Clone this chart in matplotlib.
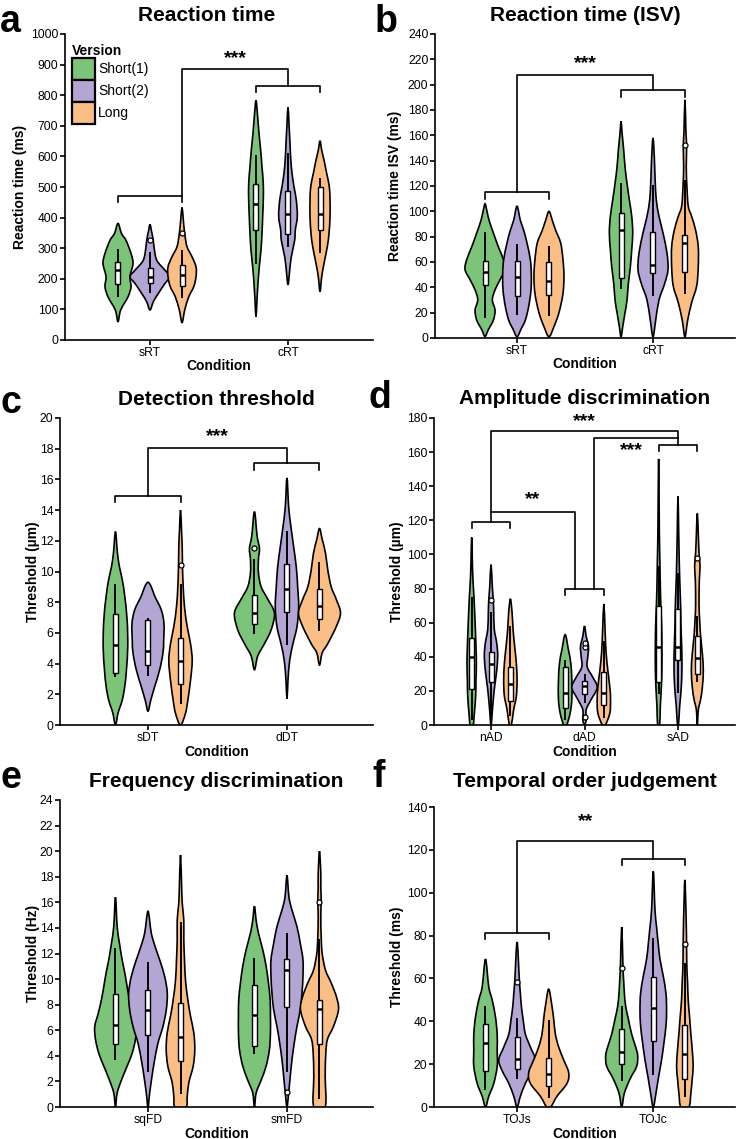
import numpy as np
import matplotlib
matplotlib.use("Agg")
import matplotlib.pyplot as plt
from matplotlib.path import Path
from matplotlib.patches import PathPatch, Patch, Rectangle

plt.rcParams['font.family'] = ['Liberation Sans', 'DejaVu Sans']

FIG_W, FIG_H = 736, 1139
COLORS = ["#7CC47A", "#B4A6D4", "#FBBF86"]
VERSIONS = ["Short(1)", "Short(2)", "Long"]

#+++ Data. Violins are given as (value, half-width in px) knots,
# boxes as [whisker low, q1, median, q3, whisker high]; order is condition-major, version-minor.

# a: Reaction time
A_CONDS = ["sRT", "cRT"]
A_Y = [[60, 98, 141, 174, 207, 250, 283, 326, 348, 381],
       [98, 125, 152, 185, 207, 228, 261, 305, 326, 359, 378],
       [57, 98, 141, 174, 207, 239, 272, 305, 348, 392, 433],
       [76, 131, 185, 239, 294, 348, 403, 457, 511, 566, 620, 675, 729, 783],
       [180, 228, 272, 326, 359, 403, 457, 501, 566, 642, 707, 760],
       [158, 207, 250, 305, 348, 403, 457, 501, 544, 588, 620, 651]]
A_W = [[0, 2.7, 10, 13, 12, 15, 13, 8, 3.5, 0],
       [0, 3.3, 8.3, 15, 20, 15, 6.7, 4, 3.3, 1.3, 0],
       [0, 2.7, 6.7, 11.7, 14, 14, 10, 5, 2.7, 1.3, 0],
       [0, 1, 2, 3.3, 5, 6, 6.7, 7.3, 7.3, 6, 4.7, 3, 1.7, 0],
       [0, 1.7, 3.3, 6.7, 7.3, 9.3, 8.3, 6, 3.3, 2, 1, 0],
       [0, 1.7, 4, 7.3, 9, 10, 10, 9.3, 6.7, 4, 1.7, 0]]
A_BOX = [[141, 183, 228, 256, 299], [152, 185, 205, 234, 288], [136, 176, 212, 245, 294],
         [250, 359, 446, 509, 604], [305, 348, 413, 487, 612], [283, 359, 413, 501, 528]]
A_OUT = [[], [326], [351], [], [], []]

# b: Reaction time (ISV)
B_CONDS = ["sRT", "cRT"]
B_Y = [[1.3, 6.6, 14, 22, 30, 38, 46, 54, 62, 72, 83, 93, 101, 106],
       [1, 7, 14, 25, 38, 51, 62, 75, 85, 93, 104],
       [1, 9, 20, 35, 49, 62, 75, 85, 93, 100],
       [1, 9, 20, 30, 43, 56, 70, 83, 96, 109, 122, 135, 148, 162, 171],
       [1, 14, 30, 43, 54, 67, 83, 96, 109, 122, 135, 148, 158],
       [1, 14, 28, 41, 56, 72, 85, 96, 104, 119, 135, 151, 162, 188]]
B_W = [[0, 3.3, 8.3, 10, 7.3, 10, 15, 20, 18.3, 13.3, 8.3, 4, 1.7, 0],
       [0, 4, 8.3, 11.7, 14, 14.3, 13.3, 10, 6.7, 3.3, 0],
       [0, 5, 10, 14, 15, 14, 11.7, 6.7, 3.3, 0],
       [0, 1.7, 4, 6, 7.3, 9.3, 10.7, 11.7, 10.7, 8.3, 6, 4, 2.7, 1, 0],
       [0, 2.7, 6, 11.7, 15, 14, 10, 6, 3.3, 2.3, 1.7, 1, 0],
       [0, 2.7, 6.7, 11.7, 13.3, 13.3, 10.7, 6.7, 3.3, 2, 1.3, 1.7, 1, 0]]
B_BOX = [[16, 42, 52, 61, 84], [18, 33, 48, 61, 74], [17, 34, 45, 60, 73],
         [39, 47, 85, 99, 122], [33, 51, 58, 84, 121], [35, 52, 75, 81, 125]]
B_OUT = [[], [], [], [], [], [152]]

# c: Detection threshold
C_CONDS = ["sDT", "dDT"]
C_Y = [[0, 0.8, 1.6, 2.5, 3.6, 5.1, 6.8, 8.4, 9.5, 10.3, 11.2, 12.6],
       [0.9, 1.6, 2.5, 3.6, 4.7, 5.5, 6.6, 7.5, 8.4, 9.0, 9.3],
       [0, 0.76, 1.6, 2.9, 4.2, 5.3, 6.4, 7.7, 9.0, 10.3, 11.6, 12.7, 14.0],
       [3.6, 4.5, 5.3, 6.2, 7.3, 8.2, 9.0, 9.9, 10.8, 11.5, 12.3, 13.9],
       [1.7, 2.9, 4.2, 5.3, 6.4, 7.7, 9.0, 10.3, 11.6, 12.9, 14.2, 16.1],
       [3.9, 4.7, 5.3, 6.4, 7.3, 8.2, 9.0, 10.1, 11.2, 12.1, 12.8]]
C_W = [[0, 2.7, 6.7, 9.3, 11, 12.3, 11.7, 9.3, 6.7, 4, 2, 0],
       [0, 2.7, 6.7, 11.7, 15, 15.7, 16, 13.3, 6.7, 3.3, 0],
       [0, 5, 7.3, 10, 11.7, 10, 6.7, 4, 2.7, 2, 1.7, 1, 0],
       [0, 3.3, 10, 16.7, 20, 13.3, 6.7, 4, 4, 5, 2.7, 0],
       [0, 1, 2.7, 6, 10, 11.7, 10.7, 9.3, 6.7, 4, 1.7, 0],
       [0, 2.7, 8.3, 16.7, 21, 16.7, 11.7, 8.3, 6, 2.7, 0]]
C_BOX = [[3.15, 3.4, 5.2, 7.2, 9.2], [3.2, 3.9, 4.85, 6.85, 7.0], [1.4, 2.7, 4.2, 5.7, 9.2],
         [5.9, 6.6, 7.3, 8.5, 10.8], [5.2, 7.35, 8.85, 10.5, 12.65], [6.15, 6.9, 7.75, 8.85, 10.65]]
C_OUT = [[], [], [10.4], [11.5], [], []]

# d: Amplitude discrimination
D_CONDS = ["nAD", "dAD", "sAD"]
D_Y = [[0, 7, 17, 26, 36, 46, 56, 66, 75, 85, 95, 110],
       [0, 11, 21, 30, 40, 48, 56, 66, 73, 81, 94],
       [0, 9, 17, 26, 36, 46, 56, 66, 74],
       [0, 7, 15, 26, 36, 44, 53],
       [0, 3, 9, 15, 22, 28, 34, 40, 46, 52, 58],
       [0, 7, 15, 22, 32, 42, 54, 71],
       [0, 11, 22, 34, 46, 58, 69, 81, 95, 114, 156],
       [0, 11, 22, 34, 46, 58, 69, 81, 95, 114, 134],
       [0, 9, 15, 22, 32, 42, 52, 62, 71, 85, 93, 101, 111, 124]]
D_W = [[1.5, 2.7, 4, 4.3, 4.7, 4.3, 3.7, 3, 2.3, 1.3, 0.7, 0],
       [0, 1.7, 3.3, 5.3, 6.7, 5.7, 3.3, 2.7, 2.3, 1.3, 0],
       [1, 3.3, 6, 6.7, 6, 4.3, 2.7, 1.7, 0],
       [1.5, 5, 6.7, 6.7, 5.7, 3.3, 0],
       [0, 1.7, 1.7, 6.7, 12.7, 8.3, 2.7, 3.3, 4, 1.7, 0],
       [1.5, 6, 6.7, 6, 4, 2.3, 1.3, 0],
       [1, 1.7, 2.7, 3.3, 3.3, 3, 2.3, 1.7, 1.3, 0.7, 0],
       [0.5, 1.7, 3.3, 4, 3.7, 3, 2.7, 2, 1.3, 0.7, 0],
       [0, 1, 3.3, 5, 6, 5, 3.3, 2.3, 1.7, 2, 2.7, 1.7, 1, 0]]
D_BOX = [[3, 21, 40, 51, 75], [1, 25, 36, 43, 66], [5, 14, 24, 34, 58],
         [3, 10, 19, 34, 38], [13, 18, 23, 26, 30], [4, 12, 19, 31, 49],
         [18, 25, 46, 70, 93], [19, 38, 46, 68, 89], [25, 30, 39, 52, 64]]
D_OUT = [[], [73], [], [], [4.5, 46, 48], [], [], [], [98]]

# e: Frequency discrimination
E_CONDS = ["sqFD", "smFD"]
E_Y = [[0, 1.1, 2.1, 3.2, 4.2, 5.3, 6.3, 7.3, 8.4, 9.4, 10.5, 11.5, 12.8, 14.1, 16.4],
       [0, 1.1, 2.4, 3.7, 5.0, 6.3, 7.6, 8.9, 10.2, 11.5, 12.5, 13.6, 15.3],
       [0, 0.8, 1.9, 3.2, 4.5, 5.8, 7.1, 8.4, 9.9, 11.5, 13.1, 14.6, 15.7, 16.7, 19.7],
       [0, 1.1, 2.1, 3.2, 4.5, 5.8, 7.1, 8.4, 9.7, 11.0, 12.3, 13.6, 14.6, 15.7],
       [0, 1.1, 2.4, 3.7, 5.0, 6.3, 7.6, 8.9, 10.2, 11.5, 12.8, 14.1, 15.4, 16.4, 18.1],
       [0, 2.4, 4.2, 5.3, 6.3, 7.6, 8.6, 9.7, 10.7, 12.0, 13.3, 14.9, 16.2, 17.2, 18.3, 20.0]]
E_W = [[0, 1.7, 6, 11.7, 16.7, 20, 20.7, 17.3, 14, 11.7, 9.3, 6.7, 4, 1.7, 0],
       [0, 1.7, 4, 6.7, 10, 15, 18.3, 19.3, 16.7, 11.7, 7.3, 3.3, 0],
       [5.5, 6.7, 8.3, 12.7, 14.3, 13.3, 10, 7.3, 5, 4, 3.3, 3.3, 2, 1.3, 0],
       [0, 1.7, 6.7, 11.7, 15, 16, 16, 15.7, 14, 11.7, 8.3, 4, 1.7, 0],
       [0, 1.7, 3.3, 5, 7.3, 10, 13.3, 15, 16, 16, 13.3, 10, 5, 2, 0],
       [5.7, 5.7, 6.3, 8, 14, 19, 17, 11.7, 6, 2.7, 1.7, 1.3, 1.7, 1.3, 1.3, 0]]
E_BOX = [[3.7, 4.9, 6.4, 8.8, 12.4], [2.7, 5.65, 7.6, 9.15, 11.3], [1.0, 3.6, 5.5, 8.1, 14.45],
         [4.15, 4.8, 7.2, 9.5, 11.65], [2.75, 7.8, 10.7, 11.55, 13.6], [0.6, 4.9, 7.7, 8.4, 13.1]]
E_OUT = [[], [], [], [], [1.2], [16]]

# f: Temporal order judgement
F_CONDS = ["TOJs", "TOJc"]
F_Y = [[0, 5, 11, 19, 27, 34, 42, 50, 56, 69],
       [0, 5, 11, 17, 22, 28, 34, 41, 47, 53, 59, 77],
       [0, 5, 11, 16, 22, 28, 34, 41, 47, 55],
       [0, 6.5, 13, 19, 24, 28, 34, 41, 47, 53, 59, 65, 84],
       [0, 6.5, 14, 22, 30, 38, 45, 53, 61, 69, 76, 84, 92, 110],
       [0, 6.5, 13, 19, 27, 34, 42, 50, 58, 65, 75, 87, 106]]
F_W = [[0, 3.3, 8.3, 11.7, 11.7, 11.7, 10, 6.7, 3.3, 0],
       [0, 3.3, 8.3, 15, 18.3, 13.3, 8.3, 6, 4.3, 3.3, 2.3, 0],
       [2, 8.3, 18.3, 20, 15, 10, 6.7, 5, 3.3, 0],
       [0, 2.7, 8.3, 15, 16, 14, 10, 6.7, 4, 2.7, 2, 1.3, 0],
       [0, 2.7, 5.3, 8.3, 10.7, 12.7, 13.3, 12.7, 10, 6.7, 5, 3.3, 1.7, 0],
       [4, 6, 7.3, 8.3, 7.3, 6, 4.7, 3.3, 2.7, 2, 1.7, 1.3, 0]]
F_BOX = [[7.8, 16.6, 30, 38.8, 47], [13.2, 17.7, 22.5, 32.6, 41.4], [4.2, 10, 15.4, 23, 40.7],
         [12.3, 20.2, 25.6, 36.3, 47.2], [15, 30.9, 46, 60.5, 78.7], [4.7, 13.2, 24.8, 38.3, 67]]
F_OUT = [[], [58.2], [], [64.7], [], [75.9]]
#---

#+++ Significance brackets: group brackets (condition index, height), links (x1, y1, x2, y2, top), stars (x, y, text)
A_GROUP_BR = [(0, 470), (1, 829)]
A_LINKS = [(0.232, 470, 1, 829, 884)]
A_STARS = [(0.616, 920, "***")]

B_GROUP_BR = [(0, 115.5), (1, 196)]
B_LINKS = [(0, 115.5, 1, 196, 208)]
B_STARS = [(0.5, 217, "***")]

C_GROUP_BR = [(0, 14.93), (1, 17.07)]
C_LINKS = [(0, 14.93, 1, 17.07, 18.04)]
C_STARS = [(0.5, 18.8, "***")]

D_GROUP_BR = [(0, 119), (1, 80), (2, 164)]
D_LINKS = [(0, 119, 0.895, 80, 125), (0, 125, 2, 164, 172.6), (1.1, 80, 2, 168, 168)]
D_STARS = [(0.45, 132, "**"), (1.0, 178, "***"), (1.5, 161, "***")]

E_GROUP_BR, E_LINKS, E_STARS = [], [], []

F_GROUP_BR = [(0, 81.3), (1, 115.8)]
F_LINKS = [(0, 81.3, 1, 115.8, 124.2)]
F_STARS = [(0.5, 133, "**")]
#---


def px_to_x(ax, p):
    x0, x1 = ax.get_xlim()
    return p * (x1 - x0) / (ax.get_position().width * FIG_W)


def smooth_closed(pts):
    # closed Catmull-Rom spline through the knots, as cubic Bezier segments
    pts = np.asarray(pts, float)
    n = len(pts)
    verts, codes = [pts[0]], [Path.MOVETO]
    for i in range(n):
        p0, p1, p2, p3 = pts[i - 1], pts[i], pts[(i + 1) % n], pts[(i + 2) % n]
        verts += [p1 + (p2 - p0) / 6, p2 - (p3 - p1) / 6, p2]
        codes += [Path.CURVE4] * 3
    verts.append(pts[0])
    codes.append(Path.CLOSEPOLY)
    return Path(verts, codes)


def draw_violin(ax, x, ys, ws, box, outliers, color):
    s = px_to_x(ax, 1)
    right = [(x + w * s, y) for y, w in zip(ys[:-1], ws[:-1]) if w > 0]
    left = [(2 * x - px, py) for px, py in right[::-1]]
    pts = ([] if ws[0] > 0 else [(x, ys[0])]) + right + [(x, ys[-1])] + left
    ax.add_patch(PathPatch(smooth_closed(pts), facecolor=color, edgecolor="black", lw=1.2, zorder=1))
    lo, q1, med, q3, hi = box
    bw = 2.5 * s
    ax.plot([x, x], [lo, hi], color="black", lw=1.4, solid_capstyle="butt", zorder=2)
    ax.add_patch(Rectangle((x - bw, q1), 2 * bw, q3 - q1, facecolor="white", edgecolor="black", lw=1.0, zorder=3))
    ax.plot([x - bw, x + bw], [med, med], color="black", lw=1.8, solid_capstyle="butt", zorder=4)
    if outliers:
        ax.plot([x] * len(outliers), outliers, "o", ms=3.6, mfc="white", mec="black", mew=0.9, zorder=5)


def draw_panel(pos, xlim, ylim, ystep, offset, conds, ys, ws, boxes, outs, title, ylabel,
               group_br, links, stars, drop, title_x=0.5, title_pad=9.4, ylab_x=-0.1):
    ax = fig.add_axes(pos)
    ax.set_xlim(*xlim)
    ax.set_ylim(*ylim)
    for i in range(len(ys)):
        g, v = divmod(i, 3)
        draw_violin(ax, g + (v - 1) * offset, ys[i], ws[i], boxes[i], outs[i], COLORS[v])
    for g, y in group_br:
        ax.plot([g - offset, g - offset, g + offset, g + offset], [y - drop, y, y, y - drop],
                color="black", lw=1.2, clip_on=False, zorder=6)
    for x1, y1, x2, y2, top in links:
        ax.plot([x1, x1, x2, x2], [y1, top, top, y2], color="black", lw=1.2, clip_on=False, zorder=6)
    for x, y, t in stars:
        ax.text(x, y, t, ha="center", va="center", fontsize=14, fontweight="bold", zorder=7)
    ax.set_xticks(range(len(conds)), conds)
    ax.set_yticks(np.arange(ylim[0], ylim[1] + ystep / 2, ystep))
    for sp in ["top", "right"]:
        ax.spines[sp].set_visible(False)
    for sp in ["left", "bottom"]:
        ax.spines[sp].set_linewidth(1.2)
    ax.tick_params(axis="both", direction="out", length=3.6, width=1.2, labelsize=8.7, pad=1.2)
    ax.set_title(title, fontsize=15, fontweight="bold", x=title_x, pad=title_pad)
    ax.set_ylabel(ylabel, fontsize=10, fontweight="bold")
    ax.set_xlabel("Condition", fontsize=10, fontweight="bold", va="top")
    ax.yaxis.set_label_coords(ylab_x, 0.5)
    ax.xaxis.set_label_coords(0.5, -19.5 / (pos[3] * FIG_H))
    return ax


fig = plt.figure(figsize=(FIG_W / 100, FIG_H / 100), dpi=100)


def fpos(l, r, top, bot):
    return [l / FIG_W, 1 - bot / FIG_H, (r - l) / FIG_W, (bot - top) / FIG_H]


ax_a = draw_panel(fpos(65, 373, 34, 340), (-0.616, 1.616), (0, 1000), 100, 0.232, A_CONDS, A_Y, A_W, A_BOX, A_OUT,
                  "Reaction time", "Reaction time (ms)", A_GROUP_BR, A_LINKS, A_STARS, 18,
                  title_x=0.461, ylab_x=-0.124)
draw_panel(fpos(435, 735, 34, 338), (-0.603, 1.603), (0, 240), 20, 0.235, B_CONDS, B_Y, B_W, B_BOX, B_OUT,
           "Reaction time (ISV)", "Reaction time ISV (ms)", B_GROUP_BR, B_LINKS, B_STARS, 5.5, ylab_x=-0.11)
draw_panel(fpos(60, 373, 418, 725), (-0.633, 1.619), (0, 20), 2, 0.234, C_CONDS, C_Y, C_W, C_BOX, C_OUT,
           "Detection threshold", "Threshold (µm)", C_GROUP_BR, C_LINKS, C_STARS, 0.43, ylab_x=-0.064)
draw_panel(fpos(434, 735, 418, 725), (-0.61, 2.61), (0, 180), 20, 0.207, D_CONDS, D_Y, D_W, D_BOX, D_OUT,
           "Amplitude discrimination", "Threshold (µm)", D_GROUP_BR, D_LINKS, D_STARS, 3.5,
           title_pad=10, ylab_x=-0.1)
draw_panel(fpos(60, 373, 800, 1107), (-0.633, 1.619), (0, 24), 2, 0.234, E_CONDS, E_Y, E_W, E_BOX, E_OUT,
           "Frequency discrimination", "Threshold (Hz)", E_GROUP_BR, E_LINKS, E_STARS, 0.5, ylab_x=-0.064)
draw_panel(fpos(434, 735, 807, 1107), (-0.61, 1.60), (0, 140), 20, 0.232, F_CONDS, F_Y, F_W, F_BOX, F_OUT,
           "Temporal order judgement", "Threshold (ms)", F_GROUP_BR, F_LINKS, F_STARS, 2.7,
           title_pad=14.4, ylab_x=-0.1)

handles = [Patch(facecolor=c, edgecolor="black", lw=1.6, label=v) for c, v in zip(COLORS, VERSIONS)]
ax_a.legend(handles=handles, title="Version", loc="upper left", bbox_to_anchor=(0.022, 0.968),
            frameon=False, fontsize=10, title_fontproperties={"weight": "bold", "size": 10},
            handlelength=1.65, handleheight=2.05, labelspacing=0, handletextpad=0.25,
            borderpad=0, borderaxespad=0, alignment="left")

# panel letters
for letter, x, y in [("a", 0, 32), ("b", 375, 32), ("c", 0, 413), ("d", 369, 408), ("e", 0, 788), ("f", 372, 787)]:
    fig.text(x / FIG_W, 1 - y / FIG_H, letter, fontsize=27, fontweight="bold", va="baseline", ha="left")

fig.savefig("out.png", dpi=100)
